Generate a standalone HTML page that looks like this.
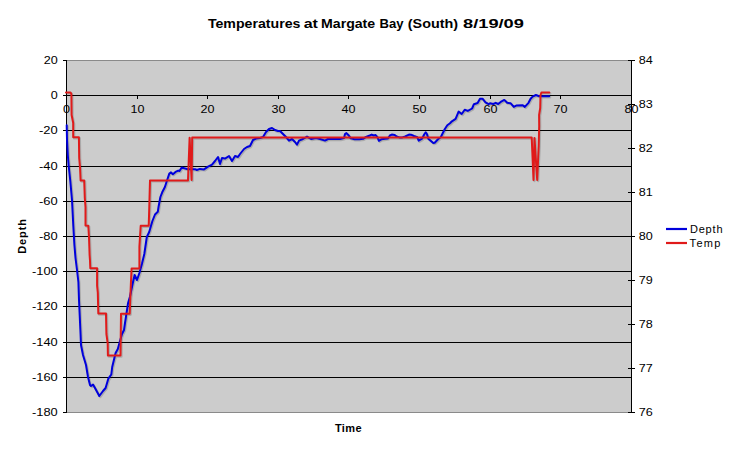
<!DOCTYPE html>
<html><head><meta charset="utf-8"><style>
html,body{margin:0;padding:0;background:#fff;width:733px;height:450px;overflow:hidden;font-family:"Liberation Sans",sans-serif;}
svg{display:block}
</style></head><body>
<svg width="733" height="450" viewBox="0 0 733 450">
<rect x="66" y="60" width="565" height="352" fill="#cccccc"/>
<line x1="66" y1="60.5" x2="631" y2="60.5" stroke="#8a8a8a" stroke-width="1"/>
<line x1="66" y1="412.5" x2="631" y2="412.5" stroke="#8a8a8a" stroke-width="1"/>
<line x1="66" y1="95.5" x2="631" y2="95.5" stroke="#000" stroke-width="1"/>
<line x1="66" y1="130.5" x2="631" y2="130.5" stroke="#000" stroke-width="1"/>
<line x1="66" y1="166.5" x2="631" y2="166.5" stroke="#000" stroke-width="1"/>
<line x1="66" y1="201.5" x2="631" y2="201.5" stroke="#000" stroke-width="1"/>
<line x1="66" y1="236.5" x2="631" y2="236.5" stroke="#000" stroke-width="1"/>
<line x1="66" y1="271.5" x2="631" y2="271.5" stroke="#000" stroke-width="1"/>
<line x1="66" y1="306.5" x2="631" y2="306.5" stroke="#000" stroke-width="1"/>
<line x1="66" y1="342.5" x2="631" y2="342.5" stroke="#000" stroke-width="1"/>
<line x1="66" y1="377.5" x2="631" y2="377.5" stroke="#000" stroke-width="1"/>
<line x1="66.5" y1="60" x2="66.5" y2="413" stroke="#000" stroke-width="1"/>
<line x1="631.5" y1="60" x2="631.5" y2="413" stroke="#000" stroke-width="1"/>
<line x1="63" y1="60.5" x2="66" y2="60.5" stroke="#000" stroke-width="1"/>
<line x1="63" y1="95.5" x2="66" y2="95.5" stroke="#000" stroke-width="1"/>
<line x1="63" y1="130.5" x2="66" y2="130.5" stroke="#000" stroke-width="1"/>
<line x1="63" y1="166.5" x2="66" y2="166.5" stroke="#000" stroke-width="1"/>
<line x1="63" y1="201.5" x2="66" y2="201.5" stroke="#000" stroke-width="1"/>
<line x1="63" y1="236.5" x2="66" y2="236.5" stroke="#000" stroke-width="1"/>
<line x1="63" y1="271.5" x2="66" y2="271.5" stroke="#000" stroke-width="1"/>
<line x1="63" y1="306.5" x2="66" y2="306.5" stroke="#000" stroke-width="1"/>
<line x1="63" y1="342.5" x2="66" y2="342.5" stroke="#000" stroke-width="1"/>
<line x1="63" y1="377.5" x2="66" y2="377.5" stroke="#000" stroke-width="1"/>
<line x1="63" y1="412.5" x2="66" y2="412.5" stroke="#000" stroke-width="1"/>
<line x1="628" y1="60.5" x2="635" y2="60.5" stroke="#000" stroke-width="1"/>
<line x1="628" y1="104.5" x2="635" y2="104.5" stroke="#000" stroke-width="1"/>
<line x1="628" y1="148.5" x2="635" y2="148.5" stroke="#000" stroke-width="1"/>
<line x1="628" y1="192.5" x2="635" y2="192.5" stroke="#000" stroke-width="1"/>
<line x1="628" y1="236.5" x2="635" y2="236.5" stroke="#000" stroke-width="1"/>
<line x1="628" y1="280.5" x2="635" y2="280.5" stroke="#000" stroke-width="1"/>
<line x1="628" y1="324.5" x2="635" y2="324.5" stroke="#000" stroke-width="1"/>
<line x1="628" y1="368.5" x2="635" y2="368.5" stroke="#000" stroke-width="1"/>
<line x1="628" y1="412.5" x2="635" y2="412.5" stroke="#000" stroke-width="1"/>
<line x1="137.5" y1="95" x2="137.5" y2="99" stroke="#000" stroke-width="1"/>
<line x1="207.5" y1="95" x2="207.5" y2="99" stroke="#000" stroke-width="1"/>
<line x1="278.5" y1="95" x2="278.5" y2="99" stroke="#000" stroke-width="1"/>
<line x1="348.5" y1="95" x2="348.5" y2="99" stroke="#000" stroke-width="1"/>
<line x1="419.5" y1="95" x2="419.5" y2="99" stroke="#000" stroke-width="1"/>
<line x1="490.5" y1="95" x2="490.5" y2="99" stroke="#000" stroke-width="1"/>
<line x1="560.5" y1="95" x2="560.5" y2="99" stroke="#000" stroke-width="1"/>
<line x1="631.5" y1="95" x2="631.5" y2="99" stroke="#000" stroke-width="1"/>
<g transform="translate(0.9,1)" opacity="0.16"><polyline points="66.7,125.3 67.0,140.0 67.8,155.0 68.6,165.0 70.3,181.0 72.0,200.0 73.3,226.0 74.4,245.0 75.5,258.0 77.0,270.0 78.4,282.0 79.0,300.0 80.0,322.0 80.6,335.0 81.0,345.0 83.0,355.0 86.0,365.0 88.0,377.0 90.0,385.0 91.0,386.0 93.0,384.6 95.0,388.0 99.3,396.0 103.0,391.0 105.6,388.0 108.3,378.7 111.3,374.5 112.2,367.0 115.6,353.0 117.8,349.0 120.0,341.0 122.0,334.0 124.0,330.0 125.0,323.0 126.0,316.7 127.0,310.0 128.0,303.3 130.0,296.5 132.6,284.0 134.6,275.0 137.0,280.0 139.4,273.0 141.9,264.0 144.3,254.0 146.8,237.0 149.2,232.0 152.4,221.0 155.0,214.5 157.8,211.8 158.6,206.5 160.4,197.0 162.2,192.3 164.9,187.0 167.5,179.0 169.3,173.6 171.0,172.4 172.9,174.2 175.5,171.9 178.2,170.6 179.5,171.0 181.7,167.4 184.4,168.3 188.0,169.2 195.0,169.2 196.8,170.0 200.0,168.9 204.0,169.4 208.0,166.6 212.0,164.6 215.0,161.0 218.0,157.0 220.0,164.0 222.0,158.0 225.0,158.6 229.0,156.0 232.0,161.0 235.0,156.0 238.0,157.0 240.0,154.0 244.0,149.0 247.0,147.0 250.0,146.0 253.0,140.0 256.0,138.6 260.0,138.0 263.0,137.0 266.0,132.0 269.0,129.0 272.0,128.0 275.0,130.0 278.0,131.0 280.0,131.0 283.0,134.0 286.0,137.0 289.0,140.6 292.0,139.0 295.0,142.0 297.0,144.6 299.0,140.6 303.0,139.0 307.0,136.6 311.0,139.0 316.0,138.0 320.0,139.0 325.0,140.6 328.0,139.0 334.0,139.0 340.0,139.0 344.0,138.0 345.0,134.1 346.4,133.1 348.8,135.5 350.7,138.4 354.6,139.3 359.3,139.3 363.1,138.8 366.0,136.9 369.8,135.5 371.7,134.6 373.7,135.5 375.6,135.0 377.5,137.4 378.9,140.8 381.3,139.3 385.1,138.8 388.0,138.4 389.9,135.5 391.8,134.6 394.7,135.0 396.6,136.5 399.4,137.4 402.3,137.4 405.2,136.5 409.0,134.6 411.0,134.7 414.0,136.0 417.3,137.3 418.7,140.7 422.0,138.7 424.3,134.3 425.7,132.3 427.0,134.3 428.3,138.7 433.3,143.0 434.7,142.7 438.0,139.3 440.7,137.3 442.7,133.3 444.7,129.3 447.3,125.3 450.0,123.3 451.9,121.3 455.6,118.9 458.6,111.6 461.7,114.0 464.7,109.7 467.8,110.9 472.1,108.5 473.9,104.2 477.6,103.0 480.0,98.7 482.5,98.7 485.5,102.4 488.6,104.2 490.0,103.2 493.3,104.0 495.7,102.8 498.2,104.0 500.7,101.9 504.3,99.9 507.2,102.8 510.5,103.2 513.8,106.9 516.2,105.6 522.8,105.2 524.8,106.9 528.5,102.8 530.6,98.7 532.6,96.6 535.9,95.0 539.2,96.2 549.2,96.2" fill="none" stroke="#000" stroke-width="2.4" stroke-linejoin="round" stroke-linecap="round"/><polyline points="66.0,92.4 70.5,92.4 71.4,94.0 71.6,115.0 73.2,123.0 73.2,137.2 78.9,137.2 79.2,158.0 80.1,168.7 80.6,180.5 84.2,180.5 84.8,198.0 85.5,207.0 85.5,225.5 88.3,225.7 89.0,237.0 89.6,255.0 90.0,260.7 90.3,268.2 97.1,268.2 97.1,285.6 97.8,292.7 98.3,313.5 106.0,313.5 106.4,334.0 107.7,343.3 107.9,355.6 120.5,355.6 121.0,313.8 129.7,313.8 130.9,283.0 131.6,268.5 139.4,268.5 139.4,246.7 140.7,225.8 148.7,225.8 149.2,210.0 150.0,180.4 188.0,180.4 189.6,137.8 191.6,180.0 192.2,137.5 531.7,137.5 533.5,180.0 534.5,138.0 537.2,180.0 538.7,146.0 539.2,126.0 539.1,115.0 540.2,108.0 540.5,95.0 541.5,92.4 549.3,92.4" fill="none" stroke="#000" stroke-width="2.4" stroke-linejoin="round" stroke-linecap="round"/></g>
<polyline points="66.7,125.3 67.0,140.0 67.8,155.0 68.6,165.0 70.3,181.0 72.0,200.0 73.3,226.0 74.4,245.0 75.5,258.0 77.0,270.0 78.4,282.0 79.0,300.0 80.0,322.0 80.6,335.0 81.0,345.0 83.0,355.0 86.0,365.0 88.0,377.0 90.0,385.0 91.0,386.0 93.0,384.6 95.0,388.0 99.3,396.0 103.0,391.0 105.6,388.0 108.3,378.7 111.3,374.5 112.2,367.0 115.6,353.0 117.8,349.0 120.0,341.0 122.0,334.0 124.0,330.0 125.0,323.0 126.0,316.7 127.0,310.0 128.0,303.3 130.0,296.5 132.6,284.0 134.6,275.0 137.0,280.0 139.4,273.0 141.9,264.0 144.3,254.0 146.8,237.0 149.2,232.0 152.4,221.0 155.0,214.5 157.8,211.8 158.6,206.5 160.4,197.0 162.2,192.3 164.9,187.0 167.5,179.0 169.3,173.6 171.0,172.4 172.9,174.2 175.5,171.9 178.2,170.6 179.5,171.0 181.7,167.4 184.4,168.3 188.0,169.2 195.0,169.2 196.8,170.0 200.0,168.9 204.0,169.4 208.0,166.6 212.0,164.6 215.0,161.0 218.0,157.0 220.0,164.0 222.0,158.0 225.0,158.6 229.0,156.0 232.0,161.0 235.0,156.0 238.0,157.0 240.0,154.0 244.0,149.0 247.0,147.0 250.0,146.0 253.0,140.0 256.0,138.6 260.0,138.0 263.0,137.0 266.0,132.0 269.0,129.0 272.0,128.0 275.0,130.0 278.0,131.0 280.0,131.0 283.0,134.0 286.0,137.0 289.0,140.6 292.0,139.0 295.0,142.0 297.0,144.6 299.0,140.6 303.0,139.0 307.0,136.6 311.0,139.0 316.0,138.0 320.0,139.0 325.0,140.6 328.0,139.0 334.0,139.0 340.0,139.0 344.0,138.0 345.0,134.1 346.4,133.1 348.8,135.5 350.7,138.4 354.6,139.3 359.3,139.3 363.1,138.8 366.0,136.9 369.8,135.5 371.7,134.6 373.7,135.5 375.6,135.0 377.5,137.4 378.9,140.8 381.3,139.3 385.1,138.8 388.0,138.4 389.9,135.5 391.8,134.6 394.7,135.0 396.6,136.5 399.4,137.4 402.3,137.4 405.2,136.5 409.0,134.6 411.0,134.7 414.0,136.0 417.3,137.3 418.7,140.7 422.0,138.7 424.3,134.3 425.7,132.3 427.0,134.3 428.3,138.7 433.3,143.0 434.7,142.7 438.0,139.3 440.7,137.3 442.7,133.3 444.7,129.3 447.3,125.3 450.0,123.3 451.9,121.3 455.6,118.9 458.6,111.6 461.7,114.0 464.7,109.7 467.8,110.9 472.1,108.5 473.9,104.2 477.6,103.0 480.0,98.7 482.5,98.7 485.5,102.4 488.6,104.2 490.0,103.2 493.3,104.0 495.7,102.8 498.2,104.0 500.7,101.9 504.3,99.9 507.2,102.8 510.5,103.2 513.8,106.9 516.2,105.6 522.8,105.2 524.8,106.9 528.5,102.8 530.6,98.7 532.6,96.6 535.9,95.0 539.2,96.2 549.2,96.2" fill="none" stroke="#0000dc" stroke-width="2.0" stroke-linejoin="round" stroke-linecap="round"/>
<polyline points="66.0,92.4 70.5,92.4 71.4,94.0 71.6,115.0 73.2,123.0 73.2,137.2 78.9,137.2 79.2,158.0 80.1,168.7 80.6,180.5 84.2,180.5 84.8,198.0 85.5,207.0 85.5,225.5 88.3,225.7 89.0,237.0 89.6,255.0 90.0,260.7 90.3,268.2 97.1,268.2 97.1,285.6 97.8,292.7 98.3,313.5 106.0,313.5 106.4,334.0 107.7,343.3 107.9,355.6 120.5,355.6 121.0,313.8 129.7,313.8 130.9,283.0 131.6,268.5 139.4,268.5 139.4,246.7 140.7,225.8 148.7,225.8 149.2,210.0 150.0,180.4 188.0,180.4 189.6,137.8 191.6,180.0 192.2,137.5 531.7,137.5 533.5,180.0 534.5,138.0 537.2,180.0 538.7,146.0 539.2,126.0 539.1,115.0 540.2,108.0 540.5,95.0 541.5,92.4 549.3,92.4" fill="none" stroke="#e01a1a" stroke-width="2.0" stroke-linejoin="round" stroke-linecap="round"/>
<text x="43.70" y="64.00" font-size="11.2" font-family="Liberation Sans, sans-serif" textLength="14.00" lengthAdjust="spacingAndGlyphs" fill="#000">20</text>
<text x="50.70" y="99.00" font-size="11.2" font-family="Liberation Sans, sans-serif" textLength="7.00" lengthAdjust="spacingAndGlyphs" fill="#000">0</text>
<text x="39.00" y="134.00" font-size="11.2" font-family="Liberation Sans, sans-serif" textLength="18.70" lengthAdjust="spacingAndGlyphs" fill="#000">-20</text>
<text x="39.00" y="170.00" font-size="11.2" font-family="Liberation Sans, sans-serif" textLength="18.70" lengthAdjust="spacingAndGlyphs" fill="#000">-40</text>
<text x="39.00" y="205.00" font-size="11.2" font-family="Liberation Sans, sans-serif" textLength="18.70" lengthAdjust="spacingAndGlyphs" fill="#000">-60</text>
<text x="39.00" y="240.00" font-size="11.2" font-family="Liberation Sans, sans-serif" textLength="18.70" lengthAdjust="spacingAndGlyphs" fill="#000">-80</text>
<text x="32.00" y="275.00" font-size="11.2" font-family="Liberation Sans, sans-serif" textLength="25.70" lengthAdjust="spacingAndGlyphs" fill="#000">-100</text>
<text x="32.00" y="310.00" font-size="11.2" font-family="Liberation Sans, sans-serif" textLength="25.70" lengthAdjust="spacingAndGlyphs" fill="#000">-120</text>
<text x="32.00" y="346.00" font-size="11.2" font-family="Liberation Sans, sans-serif" textLength="25.70" lengthAdjust="spacingAndGlyphs" fill="#000">-140</text>
<text x="32.00" y="381.00" font-size="11.2" font-family="Liberation Sans, sans-serif" textLength="25.70" lengthAdjust="spacingAndGlyphs" fill="#000">-160</text>
<text x="32.00" y="416.00" font-size="11.2" font-family="Liberation Sans, sans-serif" textLength="25.70" lengthAdjust="spacingAndGlyphs" fill="#000">-180</text>
<text x="638.80" y="64.00" font-size="11.2" font-family="Liberation Sans, sans-serif" textLength="14.00" lengthAdjust="spacingAndGlyphs" fill="#000">84</text>
<text x="638.80" y="108.00" font-size="11.2" font-family="Liberation Sans, sans-serif" textLength="14.00" lengthAdjust="spacingAndGlyphs" fill="#000">83</text>
<text x="638.80" y="152.00" font-size="11.2" font-family="Liberation Sans, sans-serif" textLength="14.00" lengthAdjust="spacingAndGlyphs" fill="#000">82</text>
<text x="638.80" y="196.00" font-size="11.2" font-family="Liberation Sans, sans-serif" textLength="14.00" lengthAdjust="spacingAndGlyphs" fill="#000">81</text>
<text x="638.80" y="240.00" font-size="11.2" font-family="Liberation Sans, sans-serif" textLength="14.00" lengthAdjust="spacingAndGlyphs" fill="#000">80</text>
<text x="638.80" y="284.00" font-size="11.2" font-family="Liberation Sans, sans-serif" textLength="14.00" lengthAdjust="spacingAndGlyphs" fill="#000">79</text>
<text x="638.80" y="328.00" font-size="11.2" font-family="Liberation Sans, sans-serif" textLength="14.00" lengthAdjust="spacingAndGlyphs" fill="#000">78</text>
<text x="638.80" y="372.00" font-size="11.2" font-family="Liberation Sans, sans-serif" textLength="14.00" lengthAdjust="spacingAndGlyphs" fill="#000">77</text>
<text x="638.80" y="416.00" font-size="11.2" font-family="Liberation Sans, sans-serif" textLength="14.00" lengthAdjust="spacingAndGlyphs" fill="#000">76</text>
<text x="63.00" y="113.00" font-size="11.2" font-family="Liberation Sans, sans-serif" textLength="7.00" lengthAdjust="spacingAndGlyphs" fill="#000">0</text>
<text x="130.50" y="113.00" font-size="11.2" font-family="Liberation Sans, sans-serif" textLength="14.00" lengthAdjust="spacingAndGlyphs" fill="#000">10</text>
<text x="200.50" y="113.00" font-size="11.2" font-family="Liberation Sans, sans-serif" textLength="14.00" lengthAdjust="spacingAndGlyphs" fill="#000">20</text>
<text x="271.50" y="113.00" font-size="11.2" font-family="Liberation Sans, sans-serif" textLength="14.00" lengthAdjust="spacingAndGlyphs" fill="#000">30</text>
<text x="341.50" y="113.00" font-size="11.2" font-family="Liberation Sans, sans-serif" textLength="14.00" lengthAdjust="spacingAndGlyphs" fill="#000">40</text>
<text x="412.50" y="113.00" font-size="11.2" font-family="Liberation Sans, sans-serif" textLength="14.00" lengthAdjust="spacingAndGlyphs" fill="#000">50</text>
<text x="483.50" y="113.00" font-size="11.2" font-family="Liberation Sans, sans-serif" textLength="14.00" lengthAdjust="spacingAndGlyphs" fill="#000">60</text>
<text x="553.50" y="113.00" font-size="11.2" font-family="Liberation Sans, sans-serif" textLength="14.00" lengthAdjust="spacingAndGlyphs" fill="#000">70</text>
<text x="624.50" y="113.00" font-size="11.2" font-family="Liberation Sans, sans-serif" textLength="14.00" lengthAdjust="spacingAndGlyphs" fill="#000">80</text>
<text x="207.90" y="27.6" font-size="13" font-weight="bold" font-family="Liberation Sans, sans-serif" textLength="92.50" lengthAdjust="spacingAndGlyphs" fill="#000">Temperatures</text>
<text x="303.70" y="27.6" font-size="13" font-weight="bold" font-family="Liberation Sans, sans-serif" textLength="14.20" lengthAdjust="spacingAndGlyphs" fill="#000">at</text>
<text x="321.00" y="27.6" font-size="13" font-weight="bold" font-family="Liberation Sans, sans-serif" textLength="54.20" lengthAdjust="spacingAndGlyphs" fill="#000">Margate</text>
<text x="379.60" y="27.6" font-size="13" font-weight="bold" font-family="Liberation Sans, sans-serif" textLength="24.00" lengthAdjust="spacingAndGlyphs" fill="#000">Bay</text>
<text x="407.80" y="27.6" font-size="13" font-weight="bold" font-family="Liberation Sans, sans-serif" textLength="50.30" lengthAdjust="spacingAndGlyphs" fill="#000">(South)</text>
<text x="463.10" y="27.6" font-size="13" font-weight="bold" font-family="Liberation Sans, sans-serif" textLength="60.80" lengthAdjust="spacingAndGlyphs" fill="#000">8/19/09</text>
<text x="334.9" y="432" font-size="11" font-weight="bold" font-family="Liberation Sans, sans-serif" textLength="26.8" lengthAdjust="spacing" fill="#000">Time</text>
<text transform="translate(26,236) rotate(-90)" text-anchor="middle" font-size="11" font-weight="bold" font-family="Liberation Sans, sans-serif" letter-spacing="0.9" fill="#000">Depth</text>
<line x1="666" y1="229" x2="687" y2="229" stroke="#0000dc" stroke-width="2.2"/>
<line x1="666" y1="243" x2="687" y2="243" stroke="#e01a1a" stroke-width="2.2"/>
<text x="689.9" y="232.8" font-size="11" font-family="Liberation Sans, sans-serif" textLength="32.6" lengthAdjust="spacing" fill="#000">Depth</text>
<text x="689.6" y="246.6" font-size="11" font-family="Liberation Sans, sans-serif" textLength="30.8" lengthAdjust="spacing" fill="#000">Temp</text>
</svg>
</body></html>
